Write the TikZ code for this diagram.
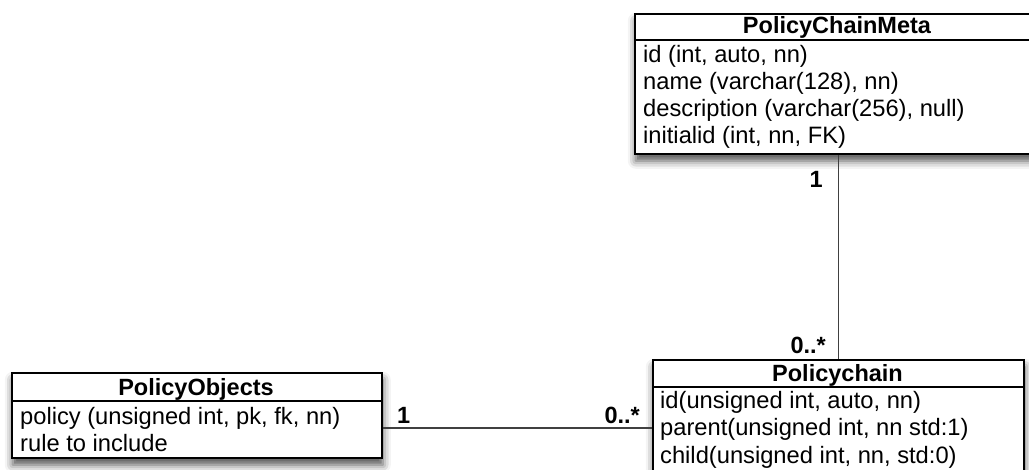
\documentclass[tikz,border=0pt]{standalone}
\usepackage{fontspec}
\setmainfont{Liberation Sans}
\usetikzlibrary{shadows.blur}
\begin{document}
\begin{tikzpicture}[x=1pt,y=-1pt,
  classbox/.style={draw=black, line width=1.6pt, fill=white, anchor=north west, inner sep=0pt,
    blur shadow={shadow xshift=1pt, shadow yshift=-7pt, shadow blur radius=8pt, shadow opacity=70}},
  divider/.style={draw=black, line width=1.6pt},
  title/.style={anchor=base, inner sep=0pt, font=\fontsize{23.5}{27.5}\selectfont\bfseries},
  attr/.style={anchor=base west, inner sep=0pt, font=\fontsize{23.7}{27.5}\selectfont},
  mult/.style={inner sep=0pt, font=\fontsize{23.5}{27.5}\selectfont\bfseries},
  link/.style={draw=black!75, line width=1.4pt}]
\useasboundingbox (0,0) rectangle (1029,469);

% PolicyChainMeta table
\node[classbox, minimum width=406pt, minimum height=140pt] (meta) at (634,13) {};
\draw[divider] ([yshift=-27pt]meta.north west) -- ([yshift=-27pt]meta.north east);
\node[title] (metaT) at (837,33.5) {PolicyChainMeta};
\node[attr] (metaA) at (643,62) {id (int, auto, nn)};
\node[attr] (metaB) at (643,89) {name (varchar(128), nn)};
\node[attr] (metaC) at (643,116) {description (varchar(256), null)};
\node[attr] (metaD) at (643,143) {initialid (int, nn, FK)};

% Policychain table
\node[classbox, minimum width=371pt, minimum height=130pt] (chain) at (652,359) {};
\draw[divider] ([yshift=-28pt]chain.north west) -- ([yshift=-28pt]chain.north east);
\node[title] (chainT) at (837.5,381) {Policychain};
\node[attr] (chainA) at (660,408) {id(unsigned int, auto, nn)};
\node[attr] (chainB) at (660,435.5) {parent(unsigned int, nn std:1)};
\node[attr] (chainC) at (660,463) {child(unsigned int, nn, std:0)};

% PolicyObjects table
\node[classbox, minimum width=370pt, minimum height=85pt] (objects) at (11,372) {};
\draw[divider] ([yshift=-29pt]objects.north west) -- ([yshift=-29pt]objects.north east);
\node[title] (objectsT) at (196,395) {PolicyObjects};
\node[attr] (objectsA) at (20,424) {policy (unsigned int, pk, fk, nn)};
\node[attr] (objectsB) at (20,451) {rule to include};

% associations
\draw[link] (chain.north) -- (chain.north |- meta.south);
\coordinate (linkrow) at (0,428);
\draw[link] (objects.east |- linkrow) -- (chain.west |- linkrow);

% multiplicities
\node[mult, anchor=base east] (multMeta) at (823,187) {1};
\node[mult, anchor=base east] (multChainTop) at (826,353) {0..*};
\node[mult, anchor=base west] (multObjects) at (397,423) {1};
\node[mult, anchor=base east] (multChainLeft) at (640,423) {0..*};
\end{tikzpicture}
\end{document}
